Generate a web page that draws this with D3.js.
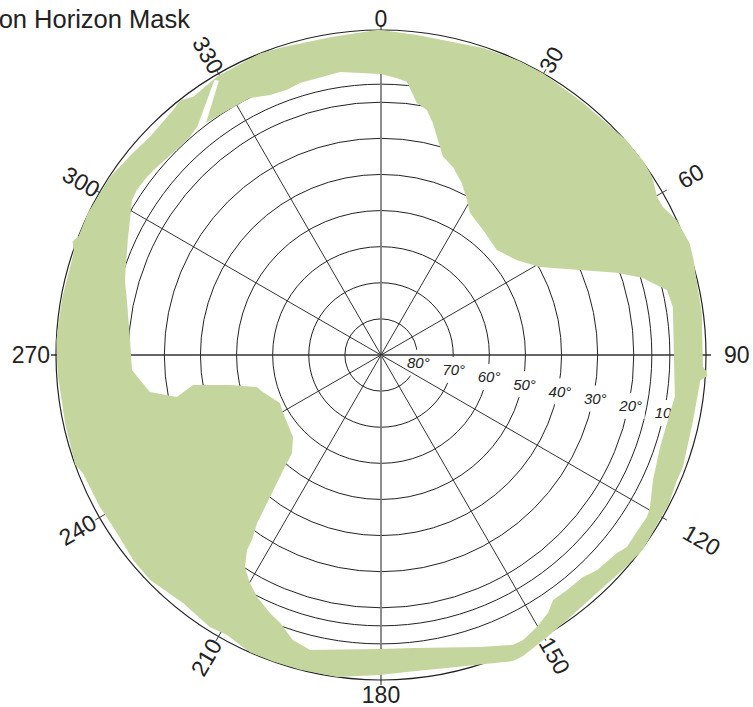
<!DOCTYPE html>
<html>
<head>
<meta charset="utf-8">
<script src="https://cdn.jsdelivr.net/npm/d3@7"></script>
<style>
  body { margin: 0; background: #fff; }
  svg { display: block; font-family: "Liberation Sans", Arial, sans-serif; }
</style>
</head>
<body>
<svg id="viz"></svg>
<script>
var width = 753;
var height = 707;

// azimuth spokes (deg, clockwise from north) and elevation rings (deg)
var azimuthTicks = [0, 30, 60, 90, 120, 150, 180, 210, 240, 270, 300, 330];
var elevationRings = [0, 10, 15, 20, 30, 40, 50, 60, 70, 80];
var ringLabels = [80, 70, 60, 50, 40, 30, 20, 10];

// horizon mask, [azimuth, elevation]
// outer edge (near the horizon)
var maskOuter = [
    [0, 0], [6.4, 0.8], [18.4, 0.4], [25.2, 0], [29.9, 0], [38.7, 0.5],
    [48.8, -0.3], [53.3, -0.3], [55.9, 0], [57.2, 0.4], [60.2, 1.9], [62.3, 1.8],
    [65.5, 0], [70.1, -0.9], [73, -0.5], [76.6, 0.2], [82.5, 0.4], [92.1, 0.8],
    [92.8, -0.2], [93.7, -0.6], [94.5, 1.3], [101.8, 1.7], [110.4, 0.8], [113, 1.0],
    [117.5, 0.2], [119.7, 0.4], [124.1, 0], [126.7, -0.4], [131.6, 0.4], [137.8, 1.0],
    [144.2, 0.5], [149.5, -0.6], [154.8, -2.2], [156.7, -2.3], [162.3, 0], [168.1, 1.4],
    [174.2, 2.0], [180.2, 1.4], [187.8, 0], [194.4, 0], [199.4, 0], [203.7, 0],
    [205.9, 0.7], [208.8, 1.5], [212.2, 1.0], [218.6, 2.1], [225.8, 0.7], [230.4, 0.9],
    [236, 1.8], [241.6, 1.5], [248.4, 1.2], [250.2, 0], [257.8, 0.5], [266.8, 0.3],
    [272.6, 0], [279.8, 0.3], [288.5, 0.3], [290.2, -1.0], [291.5, 0], [295.8, -0.2],
    [303.3, 0.2], [309.2, 1.4], [313.3, 2.0], [318, 1.4], [319.7, 1.0], [321.8, 0.2],
    [324, 1.6], [329.5, 0.5], [338.2, 0], [342.4, 0.5], [351.4, 0.9], [359.3, 0]
];
// inner edge (top of the obstruction)
var maskInner = [
    [0, 12.2], [3.3, 13.2], [5.4, 14], [8.1, 19.5], [10.6, 21.0], [12.6, 24.2],
    [15.8, 30.1], [17.4, 32.5], [21.0, 34.3], [25.2, 37.4], [29.0, 40.9], [32.1, 43.6],
    [39.2, 45.3], [47.8, 46.7], [55.1, 44.1], [61.0, 39.7], [70.8, 20.8], [73.6, 14.4],
    [74.3, 13.5], [77.2, 8.8], [80.7, 8.1], [98.1, 7.8], [101.3, 8.4], [108.3, 8.6],
    [114.7, 7.1], [119.5, 4.4], [121.3, 3.8], [124.2, 3.9], [128, 3.6], [130, 4.7],
    [134.9, 5.6], [137.7, 6.9], [141.6, 7.0], [144.9, 7.1], [147.1, 4.9], [150.2, 3.2],
    [153.5, 1.8], [155.5, 1.8], [161.3, 4.6], [173.8, 8.4], [180.2, 8.6], [193.5, 6.0],
    [197.2, 7.4], [200.6, 10.7], [203.3, 12.2], [207.1, 14.7], [209.9, 17.2], [212.7, 20.2],
    [214.5, 24.5], [214.9, 27.6], [216.4, 32.2], [218, 40.1], [220.4, 48.2], [222.2, 53.3],
    [227, 56.7], [239.4, 58.5], [244.6, 59.0], [252.6, 55.7], [255.5, 54.5], [258.8, 47.4],
    [260.9, 37.3], [258.4, 32.3], [260.9, 25.2], [264.1, 22.9], [266.6, 20.9], [273.4, 20.4],
    [282.2, 18.0], [286.3, 16.1], [294.4, 13.0], [301.9, 8.8], [304.1, 8.4], [307.3, 8.6],
    [310, 9.0], [314.2, 9.7], [318.1, 9.8], [321.1, 8.9], [328.8, 1.0], [329.4, 1.8],
    [323, 9.5], [330.1, 10.1], [333, 10.1], [334.3, 10.7], [336.9, 11.7], [340.5, 12.1],
    [343.4, 11.4], [351.8, 10.8]
];

var cx = 381, cy = 355, R = 325;

var svg = d3.select("#viz").attr("width", width).attr("height", height);

// elevation 90 at the centre, 0 on the rim
var r = d3.scaleLinear().domain([90, 0]).range([0, R]);
var a = d3.scaleLinear().domain([0, 360]).range([0, 2 * Math.PI]);

function px(az, rad) { return Math.sin(a(az)) * rad; }
function py(az, rad) { return -Math.cos(a(az)) * rad; }

var g = svg.append("g").attr("transform", "translate(" + cx + "," + cy + ")");

// rings
g.append("g")
    .selectAll("circle")
    .data(elevationRings.filter(function (d) { return d > 0; }))
    .enter().append("circle")
    .attr("r", function (d) { return r(d); })
    .attr("fill", "none")
    .attr("stroke", "#222")
    .attr("stroke-width", 1);

// ring labels, with a white patch that breaks the ring
var labAz = 101.5;
var rl = g.append("g");
rl.selectAll("rect")
    .data(ringLabels)
    .enter().append("rect")
    .attr("x", function (d) { return px(labAz, r(d) + 2) - 14; })
    .attr("y", function (d) { return py(labAz, r(d) + 2) - 13; })
    .attr("width", 28)
    .attr("height", 26)
    .attr("fill", "#fff");
rl.selectAll("text")
    .data(ringLabels)
    .enter().append("text")
    .attr("x", function (d) { return px(labAz, r(d) + 2); })
    .attr("y", function (d) { return py(labAz, r(d) + 2); })
    .attr("text-anchor", "middle")
    .attr("dominant-baseline", "central")
    .attr("font-size", 15)
    .attr("font-style", "italic")
    .attr("fill", "#222")
    .text(function (d) { return d + "\u00b0"; });

// spokes, slightly past the rim as ticks
g.append("g")
    .selectAll("line")
    .data(azimuthTicks)
    .enter().append("line")
    .attr("x1", 0).attr("y1", 0)
    .attr("x2", function (d) { return px(d, R + 5); })
    .attr("y2", function (d) { return py(d, R + 5); })
    .attr("stroke", function (d) { return d % 180 === 0 ? "#808080" : "#333"; })
    .attr("stroke-width", function (d) { return d % 180 === 0 ? 1.8 : (d % 180 === 90 ? 1.3 : 1); });

// horizon
g.append("circle")
    .attr("r", r(0))
    .attr("fill", "none")
    .attr("stroke", "#222")
    .attr("stroke-width", 1.2);

// mask
var radial = d3.lineRadial()
    .angle(function (d) { return a(d[0]); })
    .radius(function (d) { return r(d[1]); })
    .curve(d3.curveLinearClosed);

g.append("path")
    .attr("d", radial(maskOuter) + radial(maskInner))
    .attr("fill", "#c4d69d")
    .attr("fill-rule", "evenodd")
    .attr("stroke", "none");

// azimuth labels
var labelPad = {30: 3, 60: 20, 90: 18, 120: 26, 150: 3, 210: 5, 240: 6, 270: 6, 300: 2, 330: 2};
g.append("g")
    .selectAll("text")
    .data(azimuthTicks)
    .enter().append("text")
    .attr("transform", function (d) {
        if (d === 0) return "translate(0," + (-336) + ")";
        if (d === 180) return "translate(0," + 340 + ")";
        var rr = R + labelPad[d];
        var rot = d < 180 ? d - 90 : d - 270;
        return "translate(" + px(d, rr) + "," + py(d, rr) + ") rotate(" + rot + ")";
    })
    .attr("text-anchor", function (d) {
        if (d % 180 === 0) return "middle";
        return d < 180 ? "start" : "end";
    })
    .attr("dominant-baseline", "central")
    .attr("font-size", 23)
    .attr("fill", "#222")
    .text(function (d) { return d; });

// title (runs off the left edge in the original)
svg.append("text")
    .attr("x", 190)
    .attr("y", 28)
    .attr("text-anchor", "end")
    .attr("font-size", 25.5)
    .attr("fill", "#222")
    .text("Station Horizon Mask");
</script>
</body>
</html>
